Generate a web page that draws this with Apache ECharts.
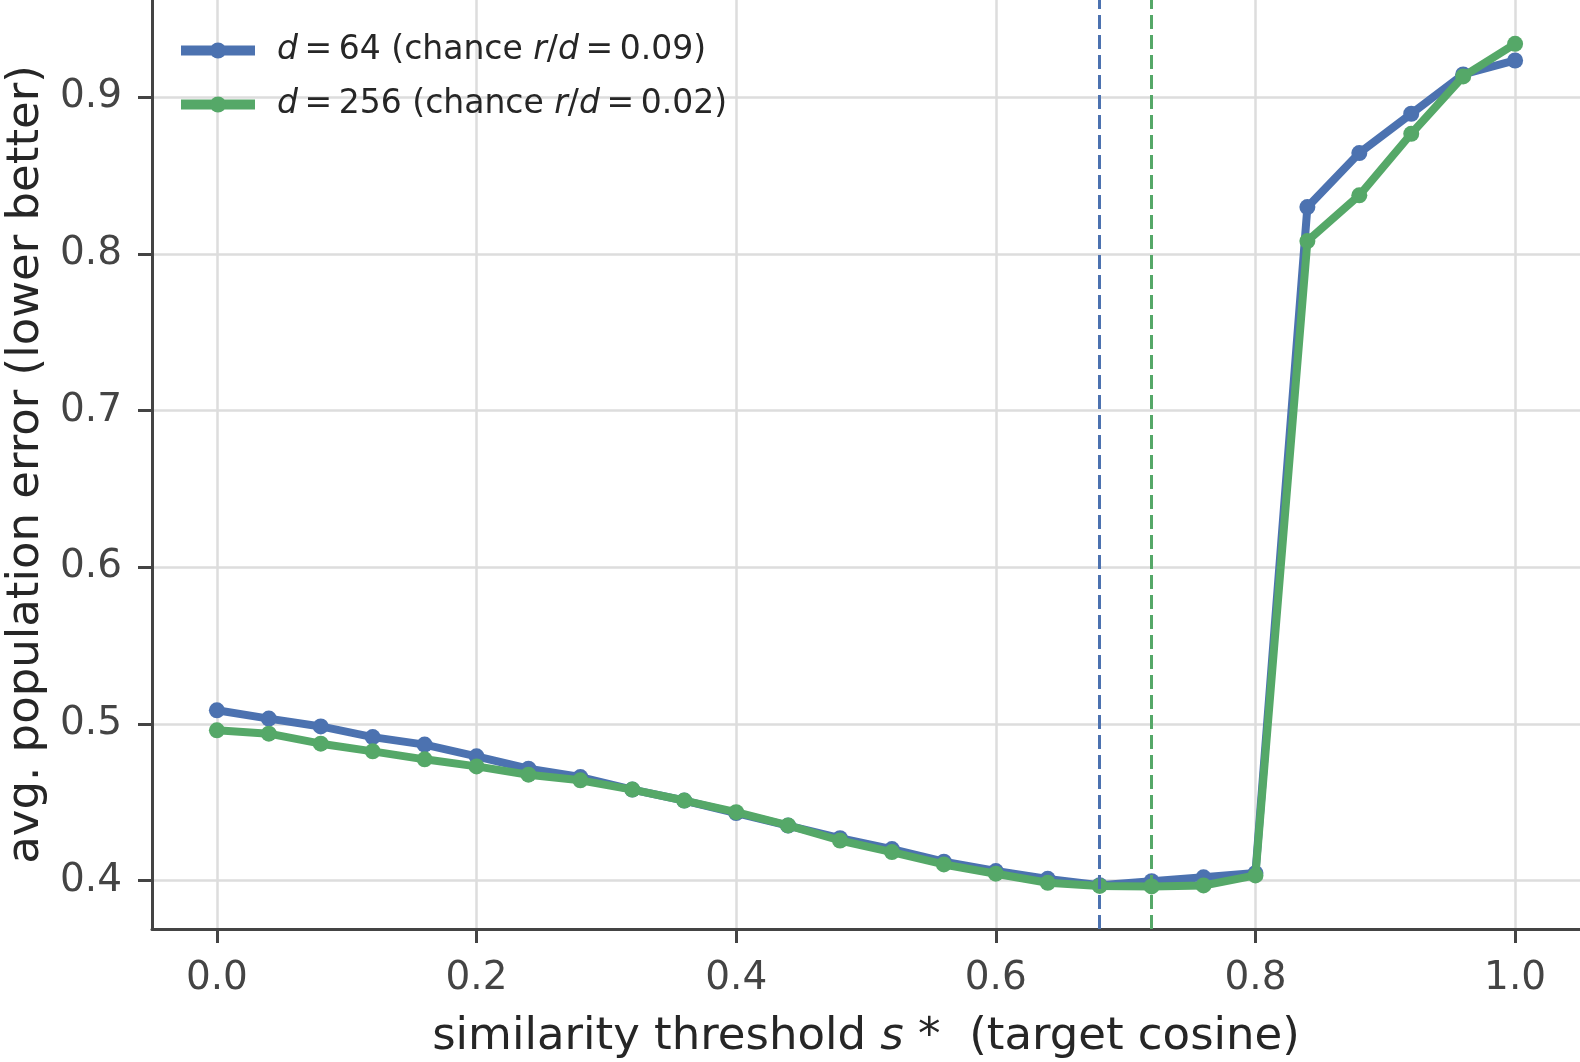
<!DOCTYPE html>
<html>
<head>
<meta charset="utf-8">
<script src="https://cdn.jsdelivr.net/npm/echarts@6/dist/echarts.min.js"></script>
<style>
  html,body{margin:0;padding:0;background:#fff;}
  #chart{width:1580px;height:1062px;}
</style>
</head>
<body>
<div id="chart"></div>
<script>
// x 值 (similarity threshold)
var thresholds = [0, 0.04, 0.08, 0.12, 0.16, 0.2, 0.24, 0.28, 0.32, 0.36, 0.4, 0.44, 0.48,
                  0.52, 0.56, 0.6, 0.64, 0.68, 0.72, 0.76, 0.8, 0.84, 0.88, 0.92, 0.96, 1.0];
// d = 64
var errD64 = [0.5086, 0.5033, 0.4983, 0.4915, 0.4867, 0.4792, 0.4713, 0.4660, 0.4580, 0.4510,
              0.4430, 0.4350, 0.4270, 0.4200, 0.4120, 0.4060, 0.4010, 0.3970, 0.3995, 0.4020,
              0.4047, 0.8298, 0.8643, 0.8894, 0.9145, 0.9234];
// d = 256
var errD256 = [0.4958, 0.4937, 0.4873, 0.4824, 0.4773, 0.4728, 0.4675, 0.4639, 0.4580, 0.4510,
               0.4436, 0.4351, 0.4255, 0.4181, 0.4102, 0.4043, 0.3985, 0.3965, 0.3962, 0.3968,
               0.4032, 0.8081, 0.8373, 0.8766, 0.9132, 0.9340];
// 竖虚线位置
var bestD64 = 0.68;
var bestD256 = 0.72;
// 刻度
var xTicks = [0, 0.2, 0.4, 0.6, 0.8, 1.0];
var yTicks = [0.4, 0.5, 0.6, 0.7, 0.8, 0.9];

var blue = '#4c72b0';
var green = '#55a868';
var font = 'DejaVu Sans';

function pairs(xs, ys){
	var out = [];
	for(var i = 0; i < xs.length; i++){
		out.push([xs[i], ys[i]]);
	}
	return out;
}

// 图例文字 (d, r 斜体)
var legendText = {
	'd64': '{sp|}{i|d}{n|\u2009=\u200964 (chance }{i|r}{n|/}{i|d}{n|\u2009=\u20090.09)}',
	'd256': '{sp|}{i|d}{n|\u2009=\u2009256 (chance }{i|r}{n|/}{i|d}{n|\u2009=\u20090.02)}'
};

var option = {
	backgroundColor: '#fff',
	animation: false,
	grid: {
		left: 152,
		right: 0,
		top: 0,
		bottom: 133,
		outerBoundsMode: 'none'
	},
	legend: {
		left: 171,
		top: 29,
		orient: 'vertical',
		itemWidth: 74,
		itemHeight: 20,
		itemGap: 21,
		data: ['d64', 'd256'],
		lineStyle: {width: 10},
		formatter: function(name){
			return legendText[name];
		},
		textStyle: {
			fontFamily: font,
			fontSize: 33,
			color: '#262626',
			rich: {
				sp: {width: 17},
				i: {fontFamily: font, fontSize: 33, fontStyle: 'italic', color: '#262626'},
				n: {fontFamily: font, fontSize: 33, color: '#262626'}
			}
		}
	},
	xAxis: {
		type: 'value',
		min: -0.05,
		max: 1.05,
		name: 'similarity threshold {i|s}{n| *  (target cosine)}',
		nameLocation: 'middle',
		nameGap: 86,
		nameTextStyle: {
			fontFamily: font,
			fontSize: 45,
			color: '#262626',
			rich: {
				i: {fontFamily: font, fontSize: 45, fontStyle: 'italic', color: '#262626'},
				n: {fontFamily: font, fontSize: 45, color: '#262626'}
			}
		},
		axisLine: {show: true, onZero: false, lineStyle: {color: '#444', width: 3}},
		axisTick: {show: true, inside: false, length: 14, customValues: xTicks,
			lineStyle: {color: '#444', width: 3}},
		axisLabel: {
			customValues: xTicks,
			margin: 30,
			fontFamily: font,
			fontSize: 39,
			color: '#444',
			formatter: function(v){ return v.toFixed(1); }
		},
		splitLine: {show: true, lineStyle: {color: '#dddddd', width: 2.5}}
	},
	yAxis: {
		type: 'value',
		min: 0.369,
		max: 0.962,
		name: 'avg. population error (lower better)',
		nameLocation: 'middle',
		nameGap: 103,
		nameTextStyle: {fontFamily: font, fontSize: 45, color: '#262626'},
		axisLine: {show: true, onZero: false, lineStyle: {color: '#444', width: 3}},
		axisTick: {show: true, inside: false, length: 14, customValues: yTicks,
			lineStyle: {color: '#444', width: 3}},
		axisLabel: {
			customValues: yTicks,
			margin: 30,
			fontFamily: font,
			fontSize: 39,
			color: '#444',
			formatter: function(v){ return v.toFixed(1); }
		},
		splitLine: {show: true, lineStyle: {color: '#dddddd', width: 2.5}}
	},
	series: [
		{
			name: 'd64',
			type: 'line',
			data: pairs(thresholds, errD64),
			symbol: 'circle',
			symbolSize: 16,
			itemStyle: {color: blue},
			lineStyle: {color: blue, width: 8},
			z: 3,
			markLine: {
				silent: true,
				symbol: 'none',
				label: {show: false},
				lineStyle: {color: blue, width: 3, type: [14, 6]},
				data: [{xAxis: bestD64}]
			}
		},
		{
			name: 'd256',
			type: 'line',
			data: pairs(thresholds, errD256),
			symbol: 'circle',
			symbolSize: 16,
			itemStyle: {color: green},
			lineStyle: {color: green, width: 8},
			z: 4,
			markLine: {
				silent: true,
				symbol: 'none',
				label: {show: false},
				lineStyle: {color: green, width: 3, type: [14, 6]},
				data: [{xAxis: bestD256}]
			}
		}
	]
};

var myChart = echarts.init(document.getElementById('chart'));
myChart.setOption(option);
</script>
</body>
</html>
